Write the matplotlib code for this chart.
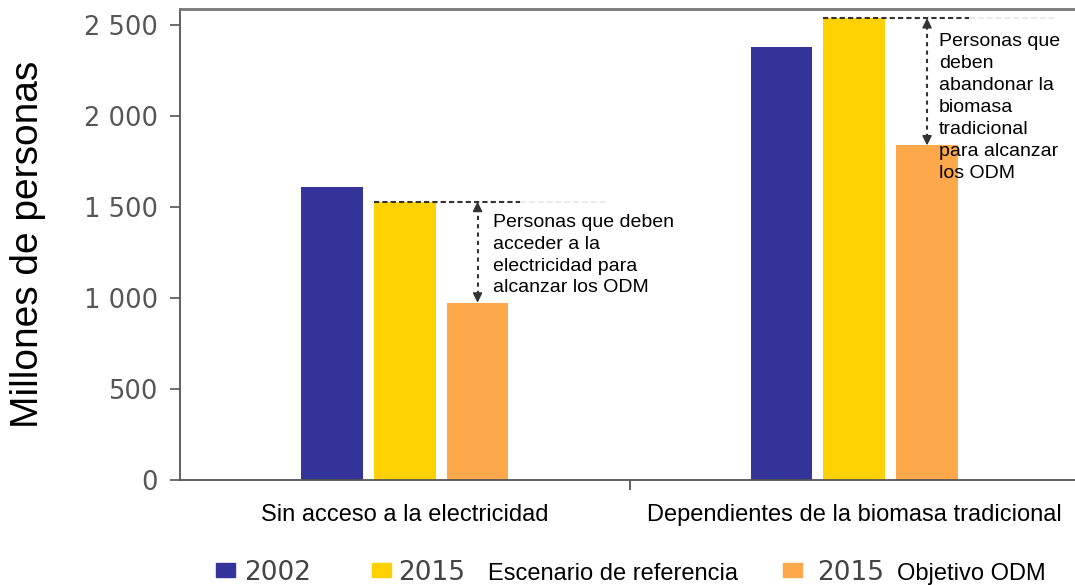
import numpy as np
import matplotlib
matplotlib.use('Agg')
import matplotlib.pyplot as plt
from matplotlib.patches import Rectangle

# datos (millones de personas)
categorias = ['Sin acceso a la electricidad', 'Dependientes de la biomasa tradicional']
v_2002 = [1610, 2380]
v_2015_ref = [1530, 2540]
v_2015_odm = [975, 1840]
anios = ['2002', '2015', '2015']
leyenda_txt = ['', 'Escenario de referencia', 'Objetivo ODM']
notas = ['Personas que deben\nacceder a la\nelectricidad para\nalcanzar los ODM',
         'Personas que\ndeben\nabandonar la\nbiomasa\ntradicional\npara alcanzar\nlos ODM']
yticks = [0, 500, 1000, 1500, 2000, 2500]

colores = ['#34349A', '#FFD100', '#FCA84B']
W, H = 1075, 585

fig = plt.figure(figsize=(W / 100, H / 100), dpi=100)
ax = fig.add_axes([180 / W, (H - 480) / H, (1079 - 180) / W, (480 - 9) / H])

x = np.arange(len(categorias))
off = 0.162
bw = 0.137
series = [v_2002, v_2015_ref, v_2015_odm]
for i, (vals, c) in enumerate(zip(series, colores)):
    ax.bar(x + (i - 1) * off, vals, width=bw, color=c, zorder=2)

ax.set_xlim(-0.5, 1.5)
ax.set_ylim(0, 2590)

# ejes
ax.spines['right'].set_visible(False)
ax.spines['top'].set_color('#777777')
ax.spines['top'].set_linewidth(2)
ax.spines['left'].set_color('#555555')
ax.spines['bottom'].set_color('#555555')
ax.spines['left'].set_linewidth(1.3)
ax.spines['bottom'].set_linewidth(1.3)

ax.set_yticks(yticks)
ax.set_yticklabels([f'{v:,}'.replace(',', ' ') for v in yticks],
                   fontfamily='DejaVu Sans', fontsize=18.5, color='#555555')
ax.tick_params(axis='y', direction='out', length=7, width=1.2, color='#555555', pad=9)

ax.set_xticks([0.5])
ax.set_xticklabels([''])
ax.tick_params(axis='x', which='major', direction='out', length=7, width=1.3, color='#555555')
ax.set_xticks(x, minor=True)
ax.set_xticklabels(categorias, minor=True, fontfamily='Liberation Sans', fontsize=17)
ax.tick_params(axis='x', which='minor', length=0, pad=17)

ax.set_ylabel('Millones de personas', fontfamily='Liberation Sans', fontsize=28)
ax.yaxis.set_label_coords(-0.149, 0.5)

# anotaciones: linea discontinua y flecha doble
for i in range(len(categorias)):
    y_top = v_2015_ref[i]
    y_bot = v_2015_odm[i]
    xa = x[i] + off
    ax.plot([x[i] - bw / 2, x[i] + 0.256], [y_top, y_top], ls=(0, (2.5, 1.5)), color='#333333', lw=1.5, zorder=3)
    ax.plot([x[i] + 0.256, x[i] + 0.45], [y_top, y_top], ls='--', color='#e6e6e6', lw=1.2, zorder=1)
    ax.plot([xa, xa], [y_bot + 40, y_top - 40], ls=(0, (2, 2)), color='#333333', lw=1.5, zorder=3)
    ax.annotate('', xy=(xa, y_top), xytext=(xa, y_top - 45),
                arrowprops=dict(arrowstyle='-|>', color='#333333', lw=1.2,
                                mutation_scale=14, shrinkA=0, shrinkB=0))
    ax.annotate('', xy=(xa, y_bot), xytext=(xa, y_bot + 45),
                arrowprops=dict(arrowstyle='-|>', color='#333333', lw=1.2,
                                mutation_scale=14, shrinkA=0, shrinkB=0))

ax.text(0.197, 1236, notas[0], fontfamily='Liberation Sans', fontsize=14,
        ha='left', va='center', linespacing=1.35, zorder=4)
ax.text(1.188, 2050, notas[1], fontfamily='Liberation Sans', fontsize=14,
        ha='left', va='center', linespacing=1.38, zorder=4)


# leyenda dibujada a mano (posiciones en pixeles)
def px(xp, yp):
    return xp / W, (H - yp) / H


cuadros = [216, 372, 783]
anio_x = [244, 398, 817]
txt_x = [None, 488, 897]
for c, sx, ax_, tx, a, t in zip(colores, cuadros, anio_x, txt_x, anios, leyenda_txt):
    fig.patches.append(Rectangle(px(sx, 577), 19 / W, 14 / H, color=c,
                                 transform=fig.transFigure, figure=fig))
    fig.text(*px(ax_, 580), a, fontfamily='DejaVu Sans', fontsize=19,
             color='#444444', va='baseline', ha='left')
    if t:
        fig.text(*px(tx, 580), t, fontfamily='Liberation Sans', fontsize=17,
                 color='black', va='baseline', ha='left')

fig.savefig('out.png', dpi=100)
